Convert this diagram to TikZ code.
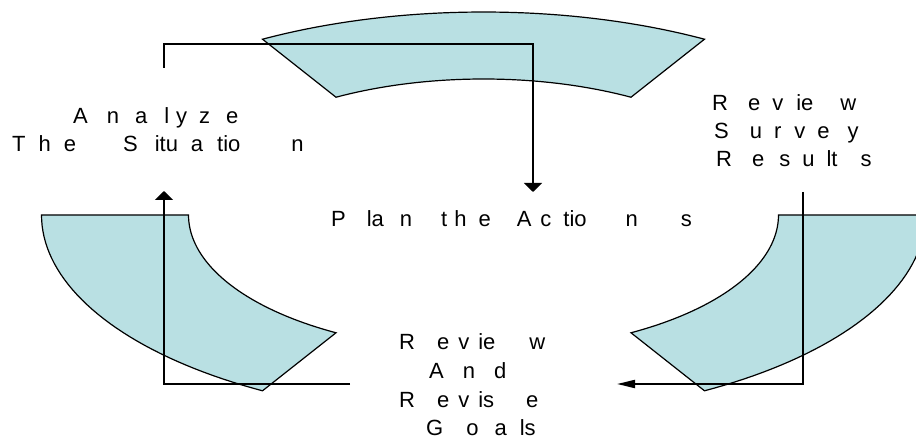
\documentclass[tikz,border=0pt]{standalone}
\usepackage{fontspec}
\setmainfont{Liberation Sans}
\usetikzlibrary{arrows.meta}
\definecolor{ringfill}{RGB}{185,224,227}
\newcommand\g[1]{\hspace{#1pt}}
\begin{document}
\begin{tikzpicture}[x=1pt,y=-1pt,
  seg/.style={draw=black, line width=1.2pt, fill=ringfill, line join=miter},
  conn/.style={draw=black, line width=2pt},
  vtip/.style={-{Triangle[width=18pt,length=9pt]}},
  htip/.style={-{Triangle[width=8pt,length=18pt]}},
  lbl/.style={anchor=base west, inner sep=0pt, font=\fontsize{22}{26}\selectfont}]
\useasboundingbox (0,0) rectangle (916,438);
\clip (0,0) rectangle (916,438);
% ring segments
\path[seg] plot[domain=60:120,samples=40] ({483.5+442*cos(\x)},{215-203*sin(\x)})
  -- plot[domain=120:60,samples=40] ({483.5+295*cos(\x)},{215-136*sin(\x)}) -- cycle;
\path[seg] plot[domain=180:240,samples=40] ({483.5+442*cos(\x)},{215-203*sin(\x)})
  -- plot[domain=240:180,samples=40] ({483.5+295*cos(\x)},{215-136*sin(\x)}) -- cycle;
\path[seg] plot[domain=300:360,samples=40] ({483.5+442*cos(\x)},{215-203*sin(\x)})
  -- plot[domain=360:300,samples=40] ({483.5+295*cos(\x)},{215-136*sin(\x)}) -- cycle;
% labels
\node[lbl] (an1) at (73,124) {A\g{19}n\g{16}a\g{17}l\g{7}y\g{12}z\g{16}e};
\node[lbl] (an2) at (12,152) {T\g{13}h\g{13}e\g{47}S\g{17}itu\g{13}a\g{14}tio\g{51}n};
\node[lbl] (plan) at (331,227) {P\g{21}la\g{16}n\g{29}t\g{7}h\g{12}e\g{26}A\g{9}c\g{12}tio\g{39}n\g{43}s};
\node[lbl] (rs1) at (712,111) {R\g{20}e\g{12}v\g{13}ie\g{27}w};
\node[lbl] (rs2) at (714,139) {S\g{21}u\g{12}r\g{13}v\g{12}e\g{18}y};
\node[lbl] (rs3) at (716,167) {R\g{20}e\g{15}s\g{12}u\g{12}lt\g{23}s};
\node[lbl] (rg1) at (399,350) {R\g{22}e\g{9}v\g{9}ie\g{34}w};
\node[lbl] (rg2) at (429,378) {A\g{19}n\g{19}d};
\node[lbl] (rg3) at (399,407) {R\g{22}e\g{9}v\g{9}is\g{32}e};
\node[lbl] (rg4) at (426,435) {G\g{23}o\g{16}a\g{13}ls};
% connectors
\coordinate (t0) at (164,68);
\coordinate (t1) at (164,44);
\coordinate (t2) at (533,44);
\coordinate (t3) at (533,192);
\draw[conn,vtip] (t0) -- (t1) -- (t2) -- (t3);
\coordinate (l0) at (350,384);
\coordinate (l1) at (164,384);
\coordinate (l2) at (164,191);
\draw[conn,vtip] (l0) -- (l1) -- (l2);
\coordinate (r0) at (803,192);
\coordinate (r1) at (803,384);
\coordinate (r2) at (617,384);
\draw[conn,htip] (r0) -- (r1) -- (r2);
\end{tikzpicture}
\end{document}
